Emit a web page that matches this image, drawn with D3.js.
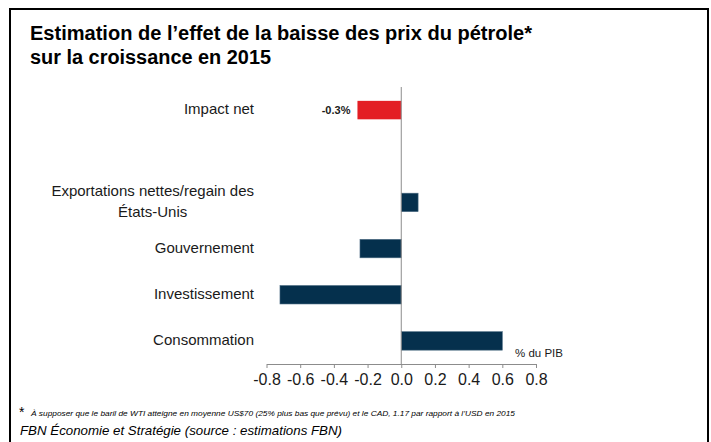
<!DOCTYPE html>
<html>
<head>
<meta charset="utf-8">
<script src="https://cdn.jsdelivr.net/npm/d3@7"></script>
<style>
  body { margin: 0; background: #fff; }
  text { font-family: "Liberation Sans", Arial, sans-serif; }
</style>
</head>
<body>
<div class="chart"></div>
<script>
// data
const categories = ["Impact net", "", "Exportations nettes/regain des|États-Unis", "Gouvernement", "Investissement", "Consommation"];
const values = [-0.26, null, 0.10, -0.245, -0.72, 0.60];
const barColors = ["#e31e24", null, "#05304d", "#05304d", "#05304d", "#05304d"];
const tickValues = [-0.8, -0.6, -0.4, -0.2, 0.0, 0.2, 0.4, 0.6, 0.8];
const valueLabel = "-0.3%";

const W = 711, H = 442;
const svg = d3.select(".chart").append("svg")
    .attr("width", W)
    .attr("height", H);

// frame
svg.append("path")
    .attr("d", "M10,444 L10,9 L708,9 L708,444")
    .attr("fill", "none")
    .attr("stroke", "#000")
    .attr("stroke-width", 2);

// title
svg.append("text")
    .attr("x", 30).attr("y", 40)
    .attr("font-size", 20).attr("font-weight", 700)
    .attr("textLength", 502).attr("lengthAdjust", "spacingAndGlyphs")
    .text("Estimation de l\u2019effet de la baisse des prix du pétrole*");
svg.append("text")
    .attr("x", 30).attr("y", 64)
    .attr("font-size", 20).attr("font-weight", 700)
    .attr("textLength", 241).attr("lengthAdjust", "spacingAndGlyphs")
    .text("sur la croissance en 2015");

// scales
const xScale = d3.scaleLinear()
    .domain([-0.8, 0.8])
    .range([266.5, 536]);

const yScale = d3.scaleBand()
    .domain(d3.range(categories.length))
    .range([87, 364])
    .paddingInner(0.6)
    .paddingOuter(0.3);

const data = categories.map((c, i) => ({cat: c, value: values[i], color: barColors[i], i: i}));

// bars
svg.selectAll(".bar")
    .data(data.filter(d => d.value !== null))
    .join("rect")
    .attr("class", "bar")
    .attr("x", d => xScale(Math.min(0, d.value)))
    .attr("width", d => Math.abs(xScale(d.value) - xScale(0)))
    .attr("y", d => yScale(d.i))
    .attr("height", yScale.bandwidth())
    .attr("fill", d => d.color)
    .attr("stroke", d => d.i === 0 ? "none" : "#4b6b82")
    .attr("stroke-width", 0.6);

// x axis
const xAxis = d3.axisBottom(xScale)
    .tickValues(tickValues)
    .tickFormat(d3.format(".1f"))
    .tickSize(4)
    .tickSizeOuter(0);

const gx = svg.append("g")
    .attr("class", "axis x-axis")
    .attr("transform", "translate(0,364)")
    .call(xAxis);
gx.select(".domain").attr("stroke", "#8c8c8c");
gx.selectAll(".tick line").attr("stroke", "#8c8c8c");
gx.selectAll(".tick text")
    .attr("font-family", "Liberation Sans, Arial, sans-serif")
    .attr("font-size", 16)
    .attr("fill", "#1a1a1a")
    .attr("dy", "0.85em")
    .text(d => d3.format(".1f")(d).replace("−", "-"));

// vertical zero line
svg.append("line")
    .attr("x1", xScale(0)).attr("x2", xScale(0))
    .attr("y1", 87).attr("y2", 364)
    .attr("stroke", "#8c8c8c");

// category labels
data.forEach(d => {
    if (!d.cat) return;
    const lines = d.cat.split("|");
    const cy = yScale(d.i) + yScale.bandwidth() / 2;
    if (lines.length === 1) {
        svg.append("text")
            .attr("x", 254).attr("y", cy - 1)
            .attr("dy", "0.35em")
            .attr("text-anchor", "end")
            .attr("font-size", 15)
            .attr("fill", "#1a1a1a")
            .text(lines[0]);
    } else {
        const t1 = svg.append("text")
            .attr("x", 254).attr("y", cy - 12)
            .attr("dy", "0.35em")
            .attr("text-anchor", "end")
            .attr("font-size", 15)
            .attr("fill", "#1a1a1a")
            .text(lines[0]);
        const w = t1.node().getComputedTextLength();
        svg.append("text")
            .attr("x", 254 - w / 2).attr("y", cy + 9)
            .attr("dy", "0.35em")
            .attr("text-anchor", "middle")
            .attr("font-size", 15)
            .attr("fill", "#1a1a1a")
            .text(lines[1]);
    }
});

// value label on net impact
svg.append("text")
    .attr("x", xScale(values[0]) - 7)
    .attr("y", yScale(0) + yScale.bandwidth() / 2)
    .attr("dy", "0.35em")
    .attr("text-anchor", "end")
    .attr("font-size", 11)
    .attr("font-weight", 700)
    .attr("fill", "#1a1a1a")
    .text(valueLabel);

// unit label
svg.append("text")
    .attr("x", 515).attr("y", 357)
    .attr("font-size", 11.5)
    .attr("fill", "#1a1a1a")
    .text("% du PIB");

// footnotes
svg.append("text")
    .attr("x", 19).attr("y", 417)
    .attr("font-size", 14)
    .text("*");
svg.append("text")
    .attr("x", 31).attr("y", 416)
    .attr("font-size", 8)
    .attr("font-style", "italic")
    .attr("textLength", 484).attr("lengthAdjust", "spacingAndGlyphs")
    .text("À supposer que le baril de WTI atteigne en moyenne US$70 (25% plus bas que prévu) et le CAD, 1.17  par rapport à l\u2019USD en 2015");
svg.append("text")
    .attr("x", 20).attr("y", 435)
    .attr("font-size", 13)
    .attr("font-style", "italic")
    .attr("textLength", 322).attr("lengthAdjust", "spacingAndGlyphs")
    .text("FBN Économie et Stratégie (source : estimations FBN)");
</script>
</body>
</html>
